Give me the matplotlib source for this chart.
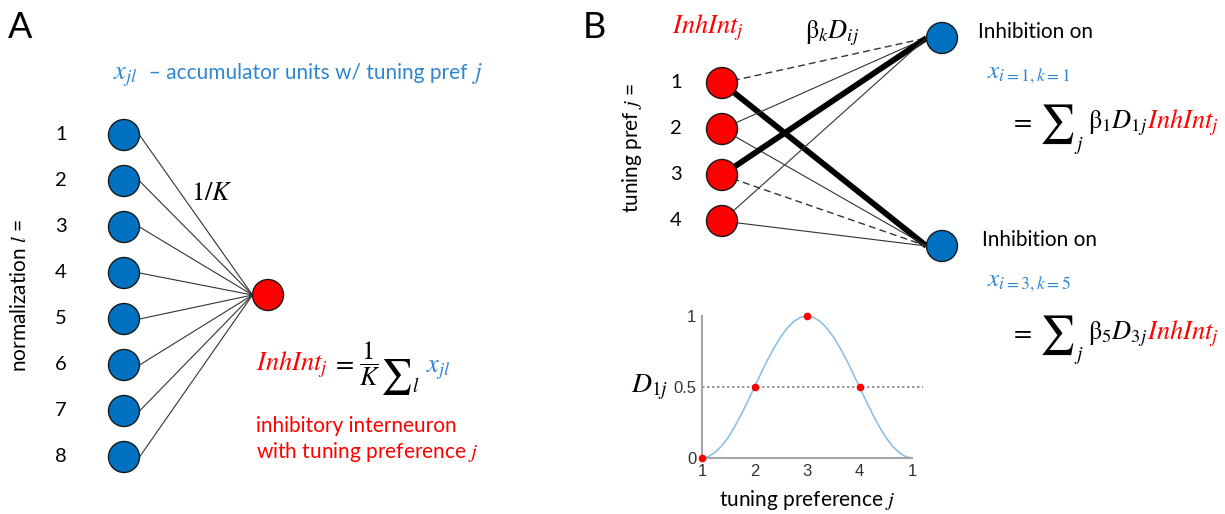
import matplotlib.pyplot as plt
from matplotlib.patches import Circle
import numpy as np

plt.rcParams['mathtext.fontset'] = 'stix'
plt.rcParams['font.family'] = ['Lato', 'DejaVu Sans']

# panel A: accumulator units l = 1..8 feeding one interneuron
norm_units = [1, 2, 3, 4, 5, 6, 7, 8]
# panel B: interneurons with tuning pref j = 1..4
pref_units = [1, 2, 3, 4]
w_top = [0, 0.5, 1, 0.5]   # D_1j -> unit i=1,k=1
w_bot = [1, 0.5, 0, 0.5]   # D_3j -> unit i=3,k=5
# tuning curve D_1j
curve_x = [1, 1.125, 1.25, 1.375, 1.5, 1.625, 1.75, 1.875, 2, 2.125, 2.25, 2.375, 2.5, 2.625, 2.75, 2.875, 3,
           3.125, 3.25, 3.375, 3.5, 3.625, 3.75, 3.875, 4, 4.125, 4.25, 4.375, 4.5, 4.625, 4.75, 4.875, 5]
curve_y = [0, 0.01, 0.04, 0.085, 0.146, 0.222, 0.309, 0.402, 0.5, 0.598, 0.691, 0.778, 0.854, 0.915, 0.962, 0.99, 1,
           0.99, 0.962, 0.915, 0.854, 0.778, 0.691, 0.598, 0.5, 0.402, 0.309, 0.222, 0.146, 0.085, 0.04, 0.01, 0]
dot_x = [1, 2, 3, 4]
dot_y = [0, 0.5, 1, 0.5]
xtick_labels = ['1', '2', '3', '4', '1']

BLUE = '#0070C0'
TXTBLUE = '#2E86D1'
RED = '#FF0000'

fig = plt.figure(figsize=(12.25, 5.14), dpi=100)
ax = fig.add_axes([0, 0, 1, 1])
ax.set_xlim(0, 1225)
ax.set_ylim(514, 0)
ax.axis('off')
renderer = fig.canvas.get_renderer()


def chain(parts, x):
    # text pieces placed one after another: (string, colour, size, y, valign, gap after)
    for s, c, size, y, va, gap in parts:
        t = ax.text(x, y, s, color=c, fontsize=size, va=va, ha='left')
        x += t.get_window_extent(renderer).width + gap


R = 15.5
M = 19   # math size

# ---- panel A ----
ax.text(8, 28, 'A', fontsize=26, va='center')
chain([(r'$x_{jl}$', TXTBLUE, M, 79, 'baseline', 0),
       ('  – accumulator units w/ tuning pref ', TXTBLUE, 15, 79, 'baseline', 0),
       (r'$j$', TXTBLUE, 17, 79, 'baseline', 0)], 113)

red_a = (268, 295)
for l in norm_units:
    y = 135 + 46 * (l - 1)
    ax.plot([124 + R, red_a[0] - R], [y, red_a[1]], color='#333333', lw=0.8, zorder=1)
    ax.add_patch(Circle((124, y), R, fc=BLUE, ec='#1a1a1a', lw=1, zorder=3))
    ax.text(61, y, str(l), ha='center', va='center', fontsize=14.5)
ax.add_patch(Circle(red_a, R, fc=RED, ec='#1a1a1a', lw=1, zorder=3))

ax.text(212, 193, r'$1/K$', ha='center', va='center', fontsize=M)
ax.text(20, 295, r'normalization $l$ =', rotation=90, ha='center', va='center', fontsize=15)

chain([(r'$\mathit{InhInt}_j$', RED, M, 370, 'baseline', 4),
       (r'$=$', 'black', M, 370, 'baseline', 5),
       (r'$\dfrac{1}{K}$', 'black', M, 364, 'center', 0),
       (r'$\sum$', 'black', 25, 377, 'center', 0),
       (r'$l$', 'black', 14, 385, 'center', 6),
       (r'$x_{jl}$', TXTBLUE, M, 372, 'baseline', 0)], 256)
ax.text(256, 426, 'inhibitory interneuron', color=RED, fontsize=15, va='center')
ax.text(256, 452, r'with tuning preference $j$', color=RED, fontsize=15, va='center')

# ---- panel B ----
ax.text(583, 28, 'B', fontsize=26, va='center')
ax.text(672, 28, r'$\mathit{InhInt}_j$', color=RED, fontsize=M, va='center')
ax.text(805, 33, r'$\mathrm{\beta}_k D_{ij}$', fontsize=M, va='center')
ax.text(632, 148, r'tuning pref $j$ =', rotation=90, ha='center', va='center', fontsize=15)

top = (942, 38)
bot = (942, 246)
for j, wt, wb in zip(pref_units, w_top, w_bot):
    y = 83 + 46 * (j - 1)
    for w, tgt in ((wt, top), (wb, bot)):
        if w == 0:
            ax.plot([722, tgt[0] - R], [y, tgt[1]], color='#333333', lw=1, ls=(0, (5, 3)), zorder=1)
        elif w == 1:
            ax.plot([722, tgt[0] - R], [y, tgt[1]], color='black', lw=4.2, zorder=1, solid_capstyle='butt')
        else:
            ax.plot([722, tgt[0] - R], [y, tgt[1]], color='#333333', lw=0.8, zorder=1)
    ax.add_patch(Circle((722, y), R, fc=RED, ec='#1a1a1a', lw=1, zorder=3))
    ax.text(676, y, str(j), ha='center', va='center', fontsize=14.5)
ax.add_patch(Circle(top, R, fc=BLUE, ec='#1a1a1a', lw=1, zorder=3))
ax.add_patch(Circle(bot, R, fc=BLUE, ec='#1a1a1a', lw=1, zorder=3))

for yi, sub, eq_y, d in ((32, 'i=1,k=1', 128, ('1', '1j')), (240, 'i=3,k=5', 339, ('5', '3j'))):
    ax.text(978 if yi < 100 else 982, yi, 'Inhibition on', fontsize=15, va='center')
    ax.text(987, yi + 43, r'$x_{%s}$' % sub, color=TXTBLUE, fontsize=18, va='center')
    chain([(r'$=$', 'black', M, eq_y, 'baseline', 6),
           (r'$\sum$', 'black', 28, eq_y - 4, 'center', 0),
           (r'$j$', 'black', 14, eq_y + 17, 'center', 4),
           (r'$\mathrm{\beta}_%s D_{%s}$' % d, 'black', M, eq_y, 'baseline', 0),
           (r'$\mathit{InhInt}_j$', RED, M, eq_y, 'baseline', 0)], 1010)

# ---- inset: tuning curve ----
ins = fig.add_axes([702 / 1225, (514 - 458) / 514, 210 / 1225, 142 / 514])
ins.plot(curve_x, curve_y, color='#8CC0E6', lw=1.2)
ins.plot([1, 5.2], [0.5, 0.5], color='#888888', lw=1.2, ls=(0, (1.5, 1.5)), clip_on=False)
ins.plot(dot_x, dot_y, 'o', color=RED, ms=4.5, clip_on=False, zorder=5)
ins.set_xlim(1, 5)
ins.set_ylim(0, 1)
ins.set_xticks([1, 2, 3, 4, 5])
ins.set_xticklabels(xtick_labels)
ins.set_yticks([0, 0.5, 1])
ins.set_yticklabels(['0', '0.5', '1'])
for s in ('top', 'right'):
    ins.spines[s].set_visible(False)
for s in ('left', 'bottom'):
    ins.spines[s].set_color('#A6A6A6')
    ins.spines[s].set_linewidth(1.5)
ins.tick_params(length=0, pad=4, labelsize=12, labelcolor='#333333')
for lab in ins.get_xticklabels() + ins.get_yticklabels():
    lab.set_family(['Liberation Sans', 'DejaVu Sans'])
ins.patch.set_alpha(0)

ax.text(668, 387, r'$D_{1j}$', ha='right', va='center', fontsize=20)
ax.text(807, 500, r'tuning preference $j$', ha='center', va='center', fontsize=15)

fig.savefig('out.png', dpi=100)
